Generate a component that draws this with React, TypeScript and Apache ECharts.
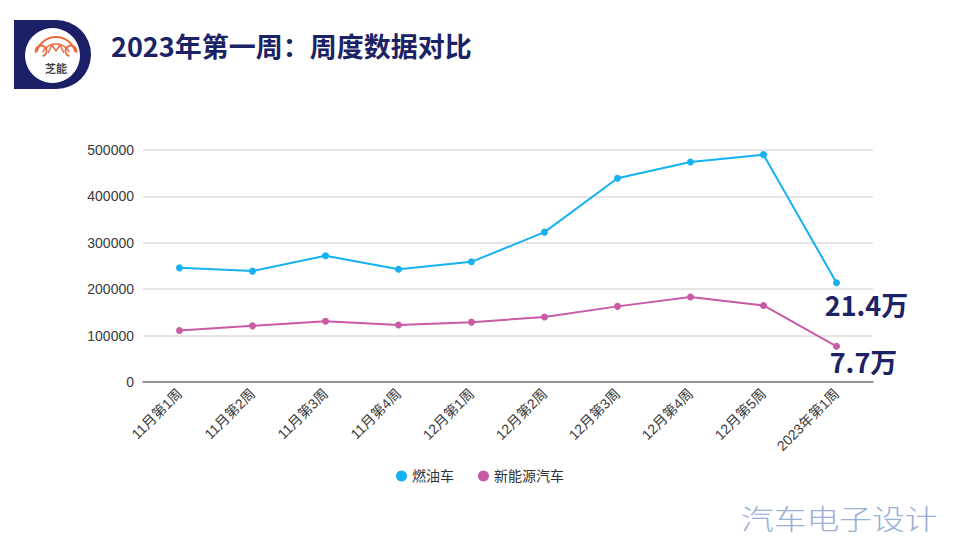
import React, { useEffect, useRef } from "react";
import * as echarts from "echarts";

const categories = [
  "11月第1周", "11月第2周", "11月第3周", "11月第4周", "12月第1周",
  "12月第2周", "12月第3周", "12月第4周", "12月第5周", "2023年第1周",
];
const fuelValues = [246000, 239000, 272000, 243000, 259000, 323000, 439000, 474000, 490000, 214000];
const nevValues = [111000, 121000, 131000, 123000, 129000, 140000, 163000, 183000, 165000, 77000];
const seriesNames = ["燃油车", "新能源汽车"];
const yTicks = [0, 100000, 200000, 300000, 400000, 500000];
const fuelNote = "21.4万";
const nevNote = "7.7万";
const titleText = "2023年第一周：周度数据对比";
const watermark = "汽车电子设计";
const logoText = "芝能";

const NAVY = "#1c2266";
const BLUE = "#14b2f0";
const PINK = "#c95aa5";

function withNote(values: number[], note: string, offset: number[]) {
  return values.map((v, i) =>
    i === values.length - 1
      ? {
          value: v,
          label: {
            show: true,
            formatter: note,
            position: "bottom",
            distance: 0,
            offset,
            fontSize: 27,
            fontWeight: "bold",
            color: NAVY,
            fontFamily: "Noto Sans CJK SC",
          },
        }
      : v
  );
}

export default function App() {
  const ref = useRef<HTMLDivElement>(null);
  useEffect(() => {
    if (!ref.current) return;
    const chart = echarts.init(ref.current, undefined, { renderer: "svg" });
    const font = "Noto Sans CJK SC";
    const latin = "'Liberation Sans', 'Noto Sans CJK SC', sans-serif";
    chart.setOption({
      animation: false,
      backgroundColor: "#ffffff",
      textStyle: { fontFamily: font },
      grid: { left: 143, right: 87, top: 150, bottom: 158 },
      legend: {
        bottom: 52,
        left: "center",
        icon: "circle",
        itemWidth: 11,
        itemHeight: 11,
        itemGap: 24,
        textStyle: { fontSize: 14, color: "#333", fontFamily: latin },
        data: seriesNames,
      },
      xAxis: {
        type: "category",
        data: categories,
        boundaryGap: true,
        axisLine: { lineStyle: { color: "#777", width: 1.5 } },
        axisTick: { alignWithLabel: true, lineStyle: { color: "#777" }, length: 5 },
        axisLabel: { rotate: 45, fontSize: 14, color: "#3a3a3a", margin: 9, fontFamily: latin, interval: 0 },
      },
      yAxis: {
        type: "value",
        min: yTicks[0],
        max: yTicks[yTicks.length - 1],
        interval: yTicks[1] - yTicks[0],
        axisLine: { show: false },
        axisTick: { show: false },
        axisLabel: { fontSize: 14, color: "#3a3a3a", margin: 9, fontFamily: latin, formatter: (v: number) => String(v) },
        splitLine: { lineStyle: { color: "#dcdcdc", width: 1.5 } },
      },
      series: [
        {
          name: seriesNames[0],
          type: "line",
          data: withNote(fuelValues, fuelNote, [30, 5]),
          color: BLUE,
          symbol: "circle",
          symbolSize: 7,
          lineStyle: { width: 2, color: BLUE },
          itemStyle: { color: BLUE },
        },
        {
          name: seriesNames[1],
          type: "line",
          data: withNote(nevValues, nevNote, [27, -2]),
          color: PINK,
          symbol: "circle",
          symbolSize: 7,
          lineStyle: { width: 2, color: PINK },
          itemStyle: { color: PINK },
        },
      ],
      graphic: [
        {
          type: "rect",
          shape: { x: 14, y: 20, width: 77, height: 69, r: [0, 36, 36, 0] },
          style: { fill: "#1a1f66" },
        },
        {
          type: "circle",
          shape: { cx: 52.5, cy: 55.5, r: 27.5 },
          style: { fill: "#ffffff" },
        },
        {
          type: "arc",
          shape: { cx: 56, cy: 57, r: 20, startAngle: Math.PI * 1.08, endAngle: Math.PI * 1.92 },
          style: { stroke: "#ec6a3c", lineWidth: 2, fill: "none" },
        },
        {
          type: "arc",
          shape: { cx: 56, cy: 59, r: 15, startAngle: Math.PI * 1.15, endAngle: Math.PI * 1.85 },
          style: { stroke: "#ec6a3c", lineWidth: 1.5, fill: "none" },
        },
        {
          type: "arc",
          shape: { cx: 41, cy: 51, r: 5.5, startAngle: Math.PI * 0.9, endAngle: Math.PI * 2.4 },
          style: { stroke: "#ec6a3c", lineWidth: 1.8, fill: "none" },
        },
        {
          type: "arc",
          shape: { cx: 71, cy: 51, r: 5.5, startAngle: Math.PI * 0.6, endAngle: Math.PI * 2.1 },
          style: { stroke: "#ec6a3c", lineWidth: 1.8, fill: "none" },
        },
        {
          type: "polyline",
          shape: { points: [[48, 53], [52, 45], [56, 51], [60, 45], [64, 53]] },
          style: { stroke: "#ec6a3c", lineWidth: 1.5, fill: "none" },
        },
        {
          type: "text",
          x: 56,
          y: 68,
          style: {
            text: logoText,
            fill: "#444",
            fontSize: 11,
            fontWeight: "bold",
            fontFamily: font,
            align: "center",
            verticalAlign: "middle",
          },
        },
        {
          type: "text",
          x: 111,
          y: 45,
          style: {
            text: titleText,
            fill: NAVY,
            fontSize: 27,
            fontWeight: "bold",
            fontFamily: font,
            verticalAlign: "middle",
          },
        },
        {
          type: "text",
          x: 741,
          y: 518,
          scaleX: 1.17,
          style: {
            text: watermark,
            fill: "#9cafd6",
            fontSize: 28,
            fontWeight: 300,
            fontFamily: font,
            verticalAlign: "middle",
          },
        },
      ],
    });
    return () => chart.dispose();
  }, []);
  return <div ref={ref} style={{ position: "absolute", left: 0, top: 0, width: 960, height: 540 }} />;
}
